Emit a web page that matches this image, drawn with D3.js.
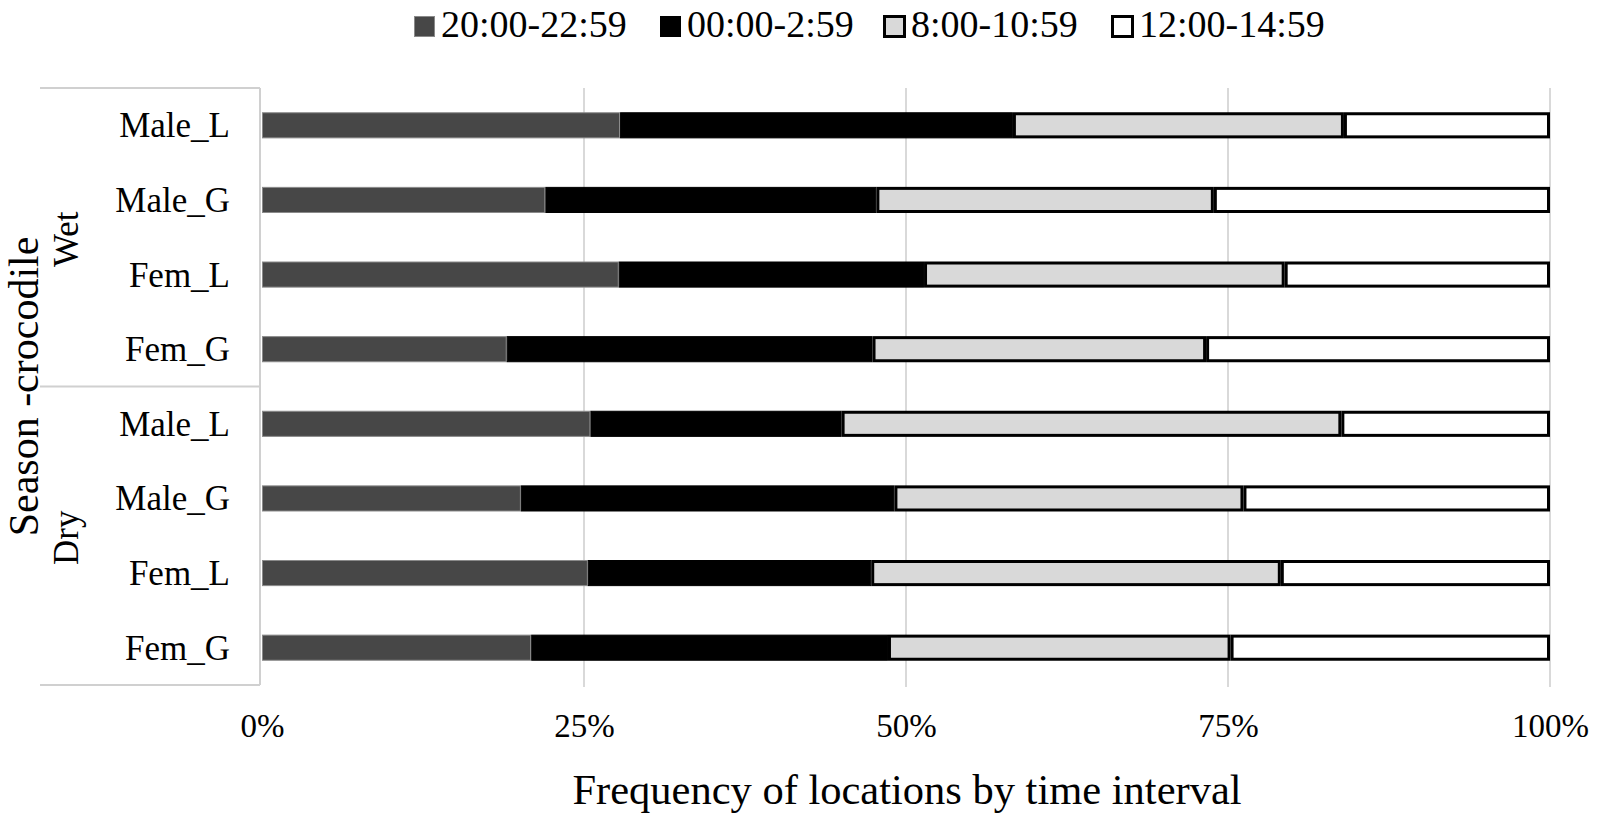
<!DOCTYPE html>
<html>
<head>
<meta charset="utf-8">
<script src="https://cdn.jsdelivr.net/npm/d3@7"></script>
<style>
  html, body { margin: 0; padding: 0; background: #fff; }
  svg { display: block; }
  text { font-family: "Liberation Serif", "Times New Roman", serif; fill: #000; }
</style>
</head>
<body>
<svg id="chart" width="1600" height="820"></svg>
<script>
// ---- data ----
const seasons = ["Wet", "Dry"];
const crocs = ["Male_L", "Male_G", "Fem_L", "Fem_G"];
const seriesNames = ["20:00-22:59", "00:00-2:59", "8:00-10:59", "12:00-14:59"];
// values in % per crocodile, order: Wet Male_L, Wet Male_G, Wet Fem_L, Wet Fem_G, Dry Male_L, Dry Male_G, Dry Fem_L, Dry Fem_G
const s2000 = [27.8, 22.0, 27.7, 19.0, 25.5, 20.1, 25.3, 20.9];
const s0000 = [30.5, 25.7, 23.7, 28.4, 19.5, 29.0, 22.0, 27.7];
const s0800 = [25.7, 26.2, 28.0, 25.9, 38.8, 27.1, 31.8, 26.6];
const s1200 = [16.0, 26.1, 20.6, 26.7, 16.2, 23.8, 20.9, 24.8];
const xTicks = [0, 25, 50, 75, 100];
const xTitle = "Frequency of locations by time interval";
const yTitle = "Season -crocodile";

// ---- build table ----
const rows = [];
seasons.forEach((s, si) => crocs.forEach((c, ci) => {
  const i = si * crocs.length + ci;
  rows.push({ id: s + "|" + c, season: s, croc: c,
    "20:00-22:59": s2000[i], "00:00-2:59": s0000[i], "8:00-10:59": s0800[i], "12:00-14:59": s1200[i] });
}));
const stacked = d3.stack().keys(seriesNames)(rows);

const fills = ["#474747", "#000000", "#d9d9d9", "#ffffff"];
const strokes = ["#8a8a8a", "#000000", "#000000", "#000000"];
const strokeW = [1, 1, 3, 3];

const svg = d3.select("#chart");
const x = d3.scaleLinear().domain([0, 100]).range([262, 1550]);
const y = d3.scaleBand().domain(rows.map(r => r.id)).range([88, 685]).paddingInner(0.65).paddingOuter(0.325);

// gridlines
svg.append("g").selectAll("line").data(xTicks.filter(t => t > 0)).join("line")
  .attr("x1", d => x(d)).attr("x2", d => x(d))
  .attr("y1", 88).attr("y2", 687)
  .attr("stroke", "#d9d9d9").attr("stroke-width", 2);

// category axis frame
const frame = svg.append("g").attr("stroke", "#d0d0d0").attr("stroke-width", 2);
frame.append("line").attr("x1", x(0) - 2).attr("x2", x(0) - 2).attr("y1", 88).attr("y2", 685);
[88, (88 + 685) / 2, 685].forEach(v => {
  frame.append("line").attr("x1", 40).attr("x2", x(0) - 2).attr("y1", v).attr("y2", v);
});

// bars
const layers = svg.append("g").selectAll("g").data(stacked).join("g")
  .attr("fill", (d, i) => fills[i]).attr("stroke", (d, i) => strokes[i]).attr("stroke-width", (d, i) => strokeW[i]);
layers.each(function(layer, li) {
  const inset = strokeW[li] / 2;
  d3.select(this).selectAll("rect").data(layer).join("rect")
    .attr("x", d => x(d[0]) + inset)
    .attr("y", d => y(d.data.id) + inset)
    .attr("width", d => Math.max(0, x(d[1]) - x(d[0]) - 2 * inset))
    .attr("height", y.bandwidth() - 2 * inset);
});

// category labels
svg.append("g").selectAll("text").data(rows).join("text")
  .attr("x", 230).attr("y", d => y(d.id) + y.bandwidth() / 2 + 12)
  .attr("text-anchor", "end").attr("font-size", 35)
  .text(d => d.croc);

// season labels (rotated)
seasons.forEach((s, si) => {
  const ids = rows.filter(r => r.season === s).map(r => r.id);
  const cy = (y(ids[0]) - y.step() * y.paddingInner() / 2 + y(ids[ids.length - 1]) + y.bandwidth() + y.step() * y.paddingInner() / 2) / 2;
  svg.append("text")
    .attr("transform", `translate(78,${cy + 2}) rotate(-90)`)
    .attr("text-anchor", "middle").attr("font-size", 35)
    .text(s);
});

// y title
svg.append("text")
  .attr("transform", `translate(38,${(88 + 685) / 2}) rotate(-90)`)
  .attr("text-anchor", "middle").attr("font-size", 42)
  .text(yTitle);

// x axis tick labels
const xAxis = d3.axisBottom(x).tickValues(xTicks).tickFormat(d => d + "%").tickSize(0).tickPadding(0);
const gx = svg.append("g").attr("transform", "translate(0,737)").call(xAxis);
gx.select(".domain").remove();
gx.selectAll("text").attr("font-size", 33).attr("font-family", '"Liberation Serif", serif').attr("fill", "#000").attr("dy", 0).attr("y", 0);

// x title
svg.append("text").attr("x", 907).attr("y", 804)
  .attr("text-anchor", "middle").attr("font-size", 42.5).text(xTitle);

// legend
const legendX = [413, 659, 883, 1111];
const lg = svg.append("g").selectAll("g").data(seriesNames).join("g")
  .attr("transform", (d, i) => `translate(${legendX[i]},0)`);
lg.append("rect").attr("x", 1.5).attr("y", 16.5).attr("width", 20).attr("height", 20)
  .attr("fill", (d, i) => fills[i]).attr("stroke", (d, i) => i === 0 ? "#8a8a8a" : "#000").attr("stroke-width", (d, i) => i < 2 ? 1 : 3);
lg.append("text").attr("x", 28).attr("y", 37).attr("font-size", 38).text(d => d);
</script>
</body>
</html>
